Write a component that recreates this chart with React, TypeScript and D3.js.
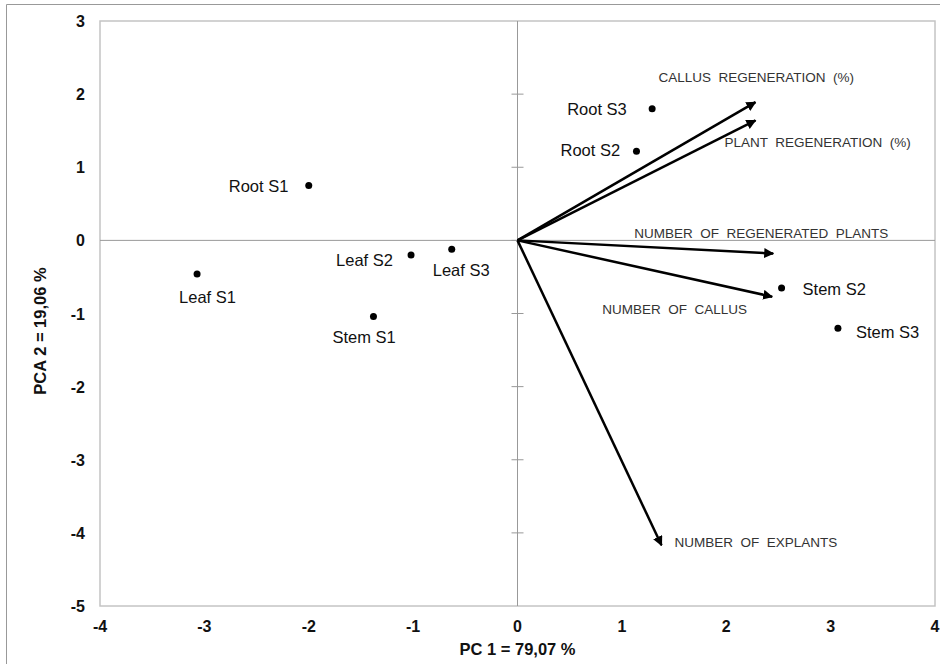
import React, { useEffect, useRef } from "react";
import * as d3 from "d3";

// scores (observations)
const sampleNames = ["Root S1", "Leaf S1", "Leaf S2", "Leaf S3", "Stem S1", "Root S3", "Root S2", "Stem S2", "Stem S3"];
const samplePC1 = [-2.0, -3.07, -1.02, -0.63, -1.38, 1.29, 1.14, 2.53, 3.07];
const samplePC2 = [0.75, -0.46, -0.2, -0.12, -1.04, 1.8, 1.22, -0.65, -1.2];

// loadings (variables)
const varNames = [
  "CALLUS  REGENERATION  (%)",
  "PLANT  REGENERATION  (%)",
  "NUMBER  OF  REGENERATED  PLANTS",
  "NUMBER  OF  CALLUS",
  "NUMBER  OF  EXPLANTS",
];
const varPC1 = [2.28, 2.28, 2.45, 2.44, 1.38];
const varPC2 = [1.89, 1.64, -0.18, -0.77, -4.17];

const xTicks = [-4, -3, -2, -1, 0, 1, 2, 3, 4];
const yTicks = [3, 2, 1, 0, -1, -2, -3, -4, -5];

// label placement (pixel offsets from the mark)
const sampleLabelOffsets = [[-80, 6], [-18, 29], [-75, 11], [-19, 27], [-41, 27], [-85, 6], [-76, 5], [21, 7], [18, 10]];
const varLabelOffsets = [[-97, -20], [-31, 27], [-139, -16], [-170, 17], [13, 2]];

const App: React.FC = () => {
  const svgRef = useRef<SVGSVGElement | null>(null);

  useEffect(() => {
    if (!svgRef.current) return;
    const svg = d3.select(svgRef.current);
    svg.selectAll("*").remove();

    const left = 100, right = 935, top = 21, bottom = 606;
    const x = d3.scaleLinear().domain([-4, 4]).range([left, right]);
    const y = d3.scaleLinear().domain([-5, 3]).range([bottom, top]);

    svg.append("defs").append("marker")
      .attr("id", "arrow")
      .attr("viewBox", "0 0 10 10")
      .attr("refX", 9)
      .attr("refY", 5)
      .attr("markerWidth", 4)
      .attr("markerHeight", 4)
      .attr("markerUnits", "strokeWidth")
      .attr("orient", "auto")
      .append("path")
      .attr("d", "M0,0 L10,5 L0,10 z")
      .attr("fill", "#000");

    // outer frame
    svg.append("path")
      .attr("d", "M6.5,664 L6.5,4.5 L940,4.5")
      .attr("fill", "none")
      .attr("stroke", "#999")
      .attr("stroke-width", 1);

    // plot area
    svg.append("rect")
      .attr("x", left)
      .attr("y", top)
      .attr("width", right - left)
      .attr("height", bottom - top)
      .attr("fill", "#fff")
      .attr("stroke", "#c4c4c4")
      .attr("stroke-width", 1.5);

    // zero axes
    svg.append("line")
      .attr("x1", left).attr("x2", right)
      .attr("y1", y(0)).attr("y2", y(0))
      .attr("stroke", "#999");
    svg.append("line")
      .attr("x1", x(0)).attr("x2", x(0))
      .attr("y1", top).attr("y2", bottom)
      .attr("stroke", "#999");
    svg.selectAll(".ytickmark")
      .data(yTicks.slice(1, -1))
      .enter()
      .append("line")
      .attr("x1", x(0) - 6)
      .attr("x2", x(0) + 6)
      .attr("y1", (d: number) => y(d))
      .attr("y2", (d: number) => y(d))
      .attr("stroke", "#999");

    // tick labels
    svg.selectAll(".xtick")
      .data(xTicks)
      .enter()
      .append("text")
      .attr("x", (d: number) => x(d))
      .attr("y", bottom + 26)
      .attr("text-anchor", "middle")
      .style("font", "bold 16px 'Liberation Sans', Arial, sans-serif")
      .style("fill", "#111")
      .text((d: number) => d);

    svg.selectAll(".ytick")
      .data(yTicks)
      .enter()
      .append("text")
      .attr("x", 85)
      .attr("y", (d: number) => y(d) + 6)
      .attr("text-anchor", "end")
      .style("font", "bold 16px 'Liberation Sans', Arial, sans-serif")
      .style("fill", "#111")
      .text((d: number) => d);

    // axis titles
    svg.append("text")
      .attr("x", x(0))
      .attr("y", 655)
      .attr("text-anchor", "middle")
      .style("font", "bold 16.5px 'Liberation Sans', Arial, sans-serif")
      .style("fill", "#111")
      .text("PC 1 = 79,07 %");
    svg.append("text")
      .attr("transform", "translate(46,331) rotate(-90)")
      .attr("text-anchor", "middle")
      .style("font", "bold 16.5px 'Liberation Sans', Arial, sans-serif")
      .style("fill", "#111")
      .text("PCA 2 = 19,06 %");

    // loading arrows
    svg.selectAll(".vec")
      .data(varNames)
      .enter()
      .append("line")
      .attr("x1", x(0))
      .attr("y1", y(0))
      .attr("x2", (_: any, i: number) => x(varPC1[i]))
      .attr("y2", (_: any, i: number) => y(varPC2[i]))
      .attr("stroke", "#000")
      .attr("stroke-width", 2.5)
      .attr("marker-end", "url(#arrow)");

    svg.selectAll(".vec-label")
      .data(varNames)
      .enter()
      .append("text")
      .attr("x", (_: any, i: number) => x(varPC1[i]) + varLabelOffsets[i][0])
      .attr("y", (_: any, i: number) => y(varPC2[i]) + varLabelOffsets[i][1])
      .style("font", "13.5px 'Liberation Sans', Arial, sans-serif")
      .style("white-space", "pre")
      .style("fill", "#333")
      .text((d: string) => d);

    // score points
    svg.selectAll(".pt")
      .data(sampleNames)
      .enter()
      .append("circle")
      .attr("cx", (_: any, i: number) => x(samplePC1[i]))
      .attr("cy", (_: any, i: number) => y(samplePC2[i]))
      .attr("r", 3.5)
      .attr("fill", "#000");

    svg.selectAll(".pt-label")
      .data(sampleNames)
      .enter()
      .append("text")
      .attr("x", (_: any, i: number) => x(samplePC1[i]) + sampleLabelOffsets[i][0])
      .attr("y", (_: any, i: number) => y(samplePC2[i]) + sampleLabelOffsets[i][1])
      .style("font", "16.5px 'Liberation Sans', Arial, sans-serif")
      .style("fill", "#111")
      .text((d: string) => d);
  }, []);

  return (
    <div style={{ position: "absolute", left: 0, top: 0 }}>
      <svg ref={svgRef} width={940} height={664} style={{ display: "block" }}></svg>
    </div>
  );
};

export default App;
